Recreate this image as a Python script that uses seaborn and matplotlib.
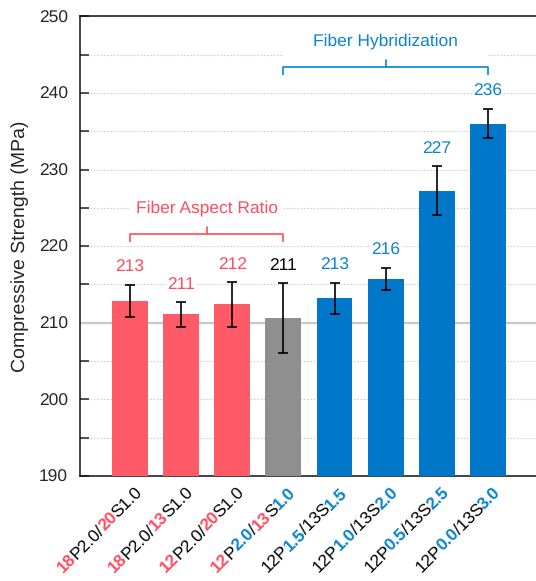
import matplotlib
matplotlib.use("Agg")
import matplotlib.pyplot as plt
import matplotlib.transforms as mtransforms
from matplotlib import font_manager
from matplotlib.ft2font import FT2Font
from matplotlib.patches import Rectangle
import numpy as np
import pandas as pd
import seaborn as sns

try:
    from matplotlib.ft2font import LoadFlags
    NO_HINT = LoadFlags.NO_HINTING
except ImportError:
    from matplotlib.ft2font import LOAD_NO_HINTING as NO_HINT

# ---- data -------------------------------------------------------------
samples = ["18P2.0/20S1.0", "18P2.0/13S1.0", "12P2.0/20S1.0", "12P2.0/13S1.0",
           "12P1.5/13S1.5", "12P1.0/13S2.0", "12P0.5/13S2.5", "12P0.0/13S3.0"]
strength = [212.8, 211.1, 212.4, 210.6, 213.2, 215.7, 227.2, 236.0]
strength_sd = [2.1, 1.6, 2.9, 4.6, 2.0, 1.4, 3.2, 1.9]
series = ["aspect", "aspect", "aspect", "reference",
          "hybrid", "hybrid", "hybrid", "hybrid"]

# tick labels split into styled pieces: 'k' plain black, 'r' bold red, 'b' bold blue
tick_segments = [
    [("18", "r"), ("P2.0/", "k"), ("20", "r"), ("S1.0", "k")],
    [("18", "r"), ("P2.0/", "k"), ("13", "r"), ("S1.0", "k")],
    [("12", "r"), ("P2.0/", "k"), ("20", "r"), ("S1.0", "k")],
    [("12", "r"), ("P", "k"), ("2.0", "b"), ("/", "k"), ("13", "r"), ("S", "k"), ("1.0", "b")],
    [("12P", "k"), ("1.5", "b"), ("/13S", "k"), ("1.5", "b")],
    [("12P", "k"), ("1.0", "b"), ("/13S", "k"), ("2.0", "b")],
    [("12P", "k"), ("0.5", "b"), ("/13S", "k"), ("2.5", "b")],
    [("12P", "k"), ("0.0", "b"), ("/13S", "k"), ("3.0", "b")],
]

group_labels = ["Fiber Aspect Ratio", "Fiber Hybridization"]
group_spans = [(0, 3), (3, 7)]
group_levels = [221.6, 243.4]

reference_level = 210
y_min, y_max = 190, 250

# ---- styling ------------------------------------------------------------
RED = "#FF5A67"
BLUE = "#0077C8"
GRAY = "#8F8F8F"
RED_TXT = "#FF4D5E"
BLUE_TXT = "#0A84D0"
bar_palette = {"aspect": RED, "reference": GRAY, "hybrid": BLUE}
value_text = {"aspect": RED_TXT, "reference": "black", "hybrid": BLUE_TXT}
seg_style = {"k": ("black", "normal"), "r": (RED_TXT, "bold"), "b": (BLUE_TXT, "bold")}
group_colors = [RED_TXT, BLUE_TXT]

sns.set_theme(style="white")
FONT = "Liberation Sans"
plt.rcParams["font.family"] = [FONT, "DejaVu Sans"]
# unhinted glyphs so the pieces of a label follow their true advances
plt.rcParams["text.hinting"] = "no_hinting"
FS = 12.5

W_PX, H_PX, DPI = 536, 581, 100
fig = plt.figure(figsize=(W_PX / DPI, H_PX / DPI), dpi=DPI)
ax = fig.add_axes([79.5 / W_PX, 105.1 / H_PX, (W_PX - 79.5) / W_PX, 459.6 / H_PX])

df = pd.DataFrame({"sample": samples, "strength": strength,
                   "sd": strength_sd, "series": series})

sns.barplot(data=df, x="sample", y="strength", hue="series", palette=bar_palette,
            dodge=False, width=0.70, errorbar=None, legend=False, ax=ax,
            saturation=1, edgecolor="none", zorder=3)

x = np.arange(len(samples))
ax.errorbar(x, df["strength"], yerr=df["sd"], fmt="none", ecolor="black",
            elinewidth=1.2, capsize=3.6, capthick=1.2, zorder=4)

ax.set_xlim(-0.987, 7.94)
ax.set_ylim(y_min, y_max)
ax.set_yticks(np.arange(y_min, y_max + 1, 10))
ax.set_yticks(np.arange(y_min + 5, y_max, 10), minor=True)
ax.yaxis.grid(True, which="both", color="#CFCFCF", linestyle=(0, (1.5, 1.5)),
              linewidth=0.8, zorder=0)
ax.xaxis.grid(False)
ax.set_axisbelow(True)
ax.axhline(reference_level, color="#C8C8C8", linewidth=1.6, zorder=2)

ax.tick_params(axis="y", which="both", direction="in", length=6.5, width=1.1,
               color="#222222", left=True, labelsize=FS, pad=8.3)
ax.tick_params(axis="x", length=0, labelbottom=False)
ax.set_xlabel("")
ax.set_ylabel("Compressive Strength (MPa)", fontsize=14, labelpad=7)
for side in ["left", "bottom", "top"]:
    ax.spines[side].set_color("#111111")
    ax.spines[side].set_linewidth(1.1)
ax.spines["right"].set_visible(False)

# value labels above the error bars
for xi, v, e, s in zip(x, strength, strength_sd, series):
    ax.annotate(f"{v:.0f}", (xi, v + e), xytext=(0, 9.5), textcoords="offset points",
                ha="center", va="baseline", fontsize=FS, color=value_text[s],
                bbox=dict(fc="white", ec="none", pad=1.0), zorder=5)

# group brackets
for lab, (a, b), lvl, col in zip(group_labels, group_spans, group_levels, group_colors):
    ax.add_patch(Rectangle((a, lvl), b - a, 4.6, facecolor="white",
                           edgecolor="none", zorder=1))
    ax.plot([a, a, b, b], [lvl - 1.0, lvl, lvl, lvl - 1.0], color=col,
            linewidth=1.2, zorder=5, solid_capstyle="butt")
    mid = (a + b) / 2
    ax.plot([mid, mid], [lvl, lvl + 0.9], color=col, linewidth=1.2, zorder=5)
    ax.text(mid, lvl + 3.3, lab, ha="center", va="center", fontsize=FS,
            color=col, zorder=5)

# multi-coloured rotated tick labels
_fonts = {}


def advance(txt, weight):
    # unhinted pen advance of a string, in pixels
    if weight not in _fonts:
        path = font_manager.findfont(font_manager.FontProperties(family=FONT, weight=weight))
        f = FT2Font(path, hinting_factor=1)
        f.set_size(FS, DPI)
        _fonts[weight] = f
    f = _fonts[weight]
    return sum(f.load_char(ord(ch), flags=NO_HINT).linearHoriAdvance / 65536.0
               for ch in txt)


ident = mtransforms.IdentityTransform()
ang = np.deg2rad(45)
c, s = np.cos(ang), np.sin(ang)
y_axis_px = ax.transData.transform((0, y_min))[1]
for xi, segs in zip(x, tick_segments):
    widths = [advance(txt, seg_style[st][1]) for txt, st in segs]
    total = sum(widths)
    ex = ax.transData.transform((xi, y_min))[0] + 13
    ey = y_axis_px - 18
    sx, sy = ex - total * c, ey - total * s
    cum = 0.0
    for (txt, st), w in zip(segs, widths):
        col, wt = seg_style[st]
        fig.text(sx + cum * c, sy + cum * s, txt, fontsize=FS, fontweight=wt,
                 color=col, rotation=45, rotation_mode="anchor",
                 ha="left", va="baseline", transform=ident)
        cum += w

fig.savefig("out.png", dpi=DPI)
